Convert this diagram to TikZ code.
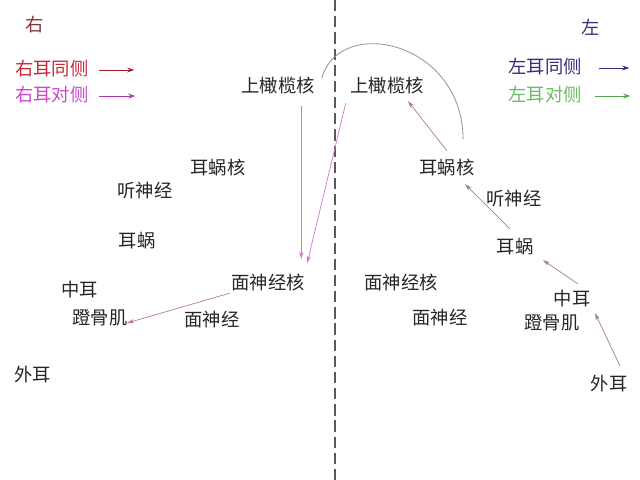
\documentclass[tikz,border=0pt]{standalone}
\usepackage{fontspec}
\newfontfamily\cjk{Noto Sans CJK SC}
\usetikzlibrary{arrows.meta}
\definecolor{rtitle}{RGB}{130,50,60}
\definecolor{ripsi}{RGB}{200,40,55}
\definecolor{rcontra}{RGB}{205,70,205}
\definecolor{ltitle}{RGB}{60,50,125}
\definecolor{lipsi}{RGB}{50,45,125}
\definecolor{lcontra}{RGB}{105,190,95}
\definecolor{pinkline}{RGB}{210,120,205}
\definecolor{mauveline}{RGB}{165,125,145}
\definecolor{arcline}{RGB}{160,145,152}
\tikzset{
    lbl/.style={font=\cjk\fontsize{13}{15}\selectfont, inner sep=1pt, text=black!85},
    arr/.style={-{Stealth[length=5pt,width=3pt]}, line width=0.5pt},
    keyarr/.style={-{Stealth[length=5pt,width=3.5pt]}, line width=0.7pt}
}

\begin{document}
\begin{tikzpicture}[x=0.025cm, y=-0.025cm]
\useasboundingbox[fill=white] (0,0) rectangle (640,480);

% midline
\draw[black!65, line width=0.8pt, dash pattern=on 8pt off 3.5pt] (335,0) -- (335,480);

% legend
\node[lbl, text=rtitle] (rtitle) at (35,25) {右};
\node[lbl, text=ltitle] (ltitle) at (591,27) {左};
\node[lbl, text=ripsi] (rkey1) at (52,69) {右耳同侧};
\node[lbl, text=rcontra] (rkey2) at (52,95) {右耳对侧};
\node[lbl, text=lipsi] (lkey1) at (545,67) {左耳同侧};
\node[lbl, text=lcontra] (lkey2) at (545,95) {左耳对侧};
\draw[keyarr, ripsi!80!black] ([shift={(9,1)}]rkey1.east) -- ++(35,0);
\draw[keyarr, rcontra!85!black] ([shift={(9,1)}]rkey2.east) -- ++(36,0);
\draw[keyarr, lipsi] ([shift={(16,1)}]lkey1.east) -- ++(30,0);
\draw[keyarr, lcontra!85!black] ([shift={(12,1)}]lkey2.east) -- ++(35,0);

% right ear (left half)
\node[lbl] (lsup) at (278,86) {上橄榄核};
\node[lbl] (lcochnuc) at (218,168) {耳蜗核};
\node[lbl] (lnerve) at (145,191) {听神经};
\node[lbl] (lcochlea) at (137,241) {耳蜗};
\node[lbl] (lmid) at (80,290) {中耳};
\node[lbl] (lstap) at (100,318) {蹬骨肌};
\node[lbl] (lfacnuc) at (268,283) {面神经核};
\node[lbl] (lfacial) at (212,320) {面神经};
\node[lbl] (louter) at (33,375) {外耳};

% left ear (right half)
\node[lbl] (rsup) at (387,86) {上橄榄核};
\node[lbl] (rcochnuc) at (447,168) {耳蜗核};
\node[lbl] (rnerve) at (514,199) {听神经};
\node[lbl] (rcochlea) at (515,247) {耳蜗};
\node[lbl] (rmid) at (572,299) {中耳};
\node[lbl] (rstap) at (552,323) {蹬骨肌};
\node[lbl] (rfacnuc) at (401,283) {面神经核};
\node[lbl] (rfacial) at (440,318) {面神经};
\node[lbl] (router) at (609,384) {外耳};

% pathways
\draw[arr, mauveline] ([shift={(11,-8)}]router.north) -- ([shift={(3,4)}]rmid.south east);
\draw[arr, mauveline] ([shift={(6,-5)}]rmid.north) -- ([shift={(8,3)}]rcochlea.south east);
\draw[arr, mauveline] ([shift={(-5,-8)}]rcochlea.north) -- ([shift={(-11,6)}]rcochnuc.south east);
\draw[arr, mauveline] ([shift={(0,-7)}]rcochnuc.north) -- ([shift={(21,5)}]rsup.south);
\draw[arcline, line width=0.6pt] ([shift={(-13,-19)}]rcochnuc.north east)
    .. controls +(-1,-98) and +(18,-63) .. ([shift={(-27,-8)}]rsup.west);
\draw[arr, pinkline] ([shift={(-15,10)}]lsup.south east) -- ([shift={(-5,-14)}]lfacnuc.north east);
\draw[arr, pinkline] ([shift={(-3,7)}]rsup.south west) -- ([shift={(1,-10)}]lfacnuc.north east);
\draw[arr, mauveline!70!pinkline] (lfacnuc.south west) -- ([shift={(-2,5)}]lstap.east);
\end{tikzpicture}
\end{document}
